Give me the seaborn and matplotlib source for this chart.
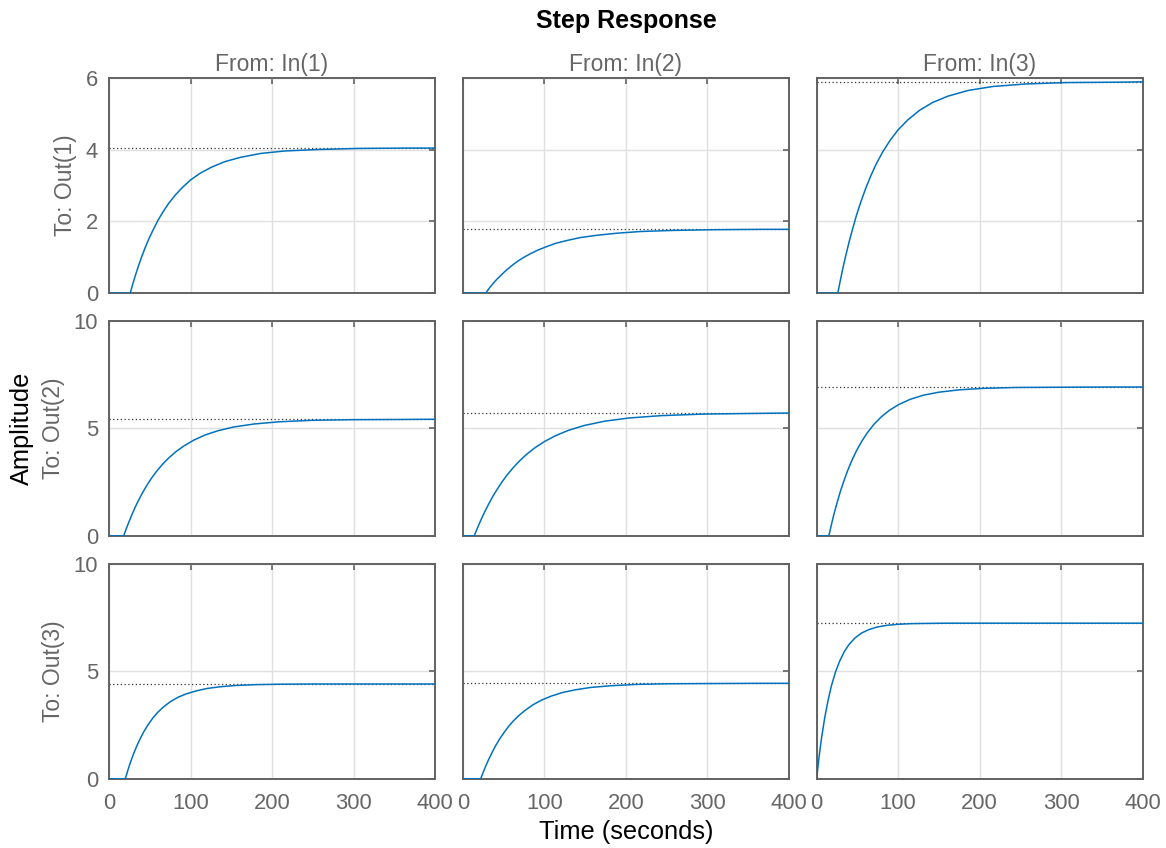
import matplotlib
matplotlib.use("Agg")
import matplotlib.pyplot as plt
import pandas as pd
import seaborn as sns

# ---------------- data ----------------
inputs = ["In(1)", "In(2)", "In(3)"]
outputs = ["Out(1)", "Out(2)", "Out(3)"]

# sample times after the dead time (s)
offsets = [0, 3, 6, 10, 14, 18, 23, 28, 34, 40, 47, 55, 64, 74, 86, 100, 116, 135, 160, 190, 230, 280, 340]
t_end = 400

# dead time of each channel (row = output, column = input)
delays = [[26, 28, 26],
          [18, 14, 15],
          [20, 22, 0]]

# amplitudes at delay + offsets
y11 = [0.00, 0.24, 0.47, 0.75, 1.01, 1.25, 1.52, 1.76, 2.03, 2.26, 2.50, 2.73, 2.95, 3.16, 3.35, 3.52, 3.67, 3.79, 3.90, 3.97, 4.01, 4.04, 4.05]
y12 = [0.00, 0.09, 0.18, 0.29, 0.39, 0.48, 0.59, 0.69, 0.80, 0.90, 1.00, 1.10, 1.20, 1.29, 1.39, 1.47, 1.55, 1.61, 1.67, 1.72, 1.75, 1.77, 1.78]
y13 = [0.00, 0.34, 0.67, 1.07, 1.44, 1.78, 2.18, 2.53, 2.91, 3.25, 3.60, 3.94, 4.26, 4.56, 4.84, 5.10, 5.32, 5.50, 5.66, 5.77, 5.84, 5.88, 5.89]
y21 = [0.00, 0.32, 0.61, 0.98, 1.33, 1.64, 2.00, 2.33, 2.68, 2.99, 3.31, 3.62, 3.92, 4.19, 4.46, 4.70, 4.90, 5.07, 5.21, 5.31, 5.38, 5.41, 5.42]
y22 = [0.00, 0.28, 0.55, 0.89, 1.21, 1.50, 1.85, 2.16, 2.51, 2.82, 3.14, 3.47, 3.79, 4.09, 4.39, 4.67, 4.92, 5.14, 5.34, 5.49, 5.60, 5.67, 5.70]
y23 = [0.00, 0.50, 0.97, 1.53, 2.05, 2.51, 3.03, 3.49, 3.97, 4.38, 4.79, 5.18, 5.53, 5.84, 6.12, 6.36, 6.55, 6.69, 6.80, 6.87, 6.91, 6.92, 6.93]
y31 = [0.00, 0.38, 0.73, 1.15, 1.52, 1.85, 2.21, 2.52, 2.84, 3.10, 3.35, 3.58, 3.78, 3.94, 4.08, 4.20, 4.28, 4.34, 4.38, 4.40, 4.41, 4.41, 4.41]
y32 = [0.00, 0.30, 0.58, 0.92, 1.23, 1.52, 1.84, 2.12, 2.43, 2.69, 2.95, 3.20, 3.44, 3.65, 3.84, 4.01, 4.14, 4.25, 4.33, 4.39, 4.42, 4.43, 4.44]
y33 = [0.00, 1.01, 1.88, 2.85, 3.64, 4.30, 4.95, 5.45, 5.92, 6.26, 6.55, 6.78, 6.94, 7.06, 7.14, 7.19, 7.22, 7.23, 7.24, 7.24, 7.24, 7.24, 7.24]
responses = [[y11, y12, y13], [y21, y22, y23], [y31, y32, y33]]

# steady-state values (dotted lines)
finals = [[4.05, 1.78, 5.90],
          [5.43, 5.72, 6.93],
          [4.41, 4.44, 7.24]]

row_ylims = [(0, 6), (0, 10), (0, 10)]
row_yticks = [[0, 2, 4, 6], [0, 5, 10], [0, 5, 10]]
xticks = [0, 100, 200, 300, 400]

# ---------------- build long table ----------------
rows = []
for i, out in enumerate(outputs):
    for j, inp in enumerate(inputs):
        d = delays[i][j]
        ts = [0] + [d + o for o in offsets] + [t_end]
        ys = [0] + responses[i][j] + [finals[i][j]]
        for t, y in zip(ts, ys):
            rows.append({"time": t, "amplitude": y, "out": out, "inp": inp})
df = pd.DataFrame(rows)

# ---------------- style ----------------
sns.set_theme(style="white")
plt.rcParams["font.family"] = ["Liberation Sans", "DejaVu Sans"]

GRAY_TXT = "#666666"
FRAME = "#626262"
GRID = "#e0e0e0"
BLUE = "#0072BD"

fig, axes = plt.subplots(3, 3, figsize=(11.66, 8.48), dpi=100,
                         sharex=True, sharey="row")
fig.subplots_adjust(left=0.0935, right=0.980, top=0.9077, bottom=0.0817,
                    wspace=0.085, hspace=0.1305)

for i, out in enumerate(outputs):
    for j, inp in enumerate(inputs):
        ax = axes[i, j]
        sub = df[(df["out"] == out) & (df["inp"] == inp)]
        ax.axhline(finals[i][j], color="#333333", lw=0.9, ls=(0, (1, 2)), zorder=2)
        sns.lineplot(data=sub, x="time", y="amplitude", ax=ax, color=BLUE,
                     lw=1.1, estimator=None, sort=False, zorder=3)
        ax.set_xlim(0, 400)
        ax.set_ylim(*row_ylims[i])
        ax.set_xticks(xticks)
        ax.set_yticks(row_yticks[i])
        ax.set_xlabel("")
        ax.set_ylabel("")
        ax.grid(True, color=GRID, lw=1.0)
        ax.set_axisbelow(True)
        for sp in ax.spines.values():
            sp.set_visible(True)
            sp.set_color(FRAME)
            sp.set_linewidth(1.4)
        ax.tick_params(direction="in", top=True, right=True, length=4, width=1.2,
                       color=FRAME, labelcolor=GRAY_TXT, labelsize=15.8)
        ax.tick_params(axis="x", pad=10)
        ax.tick_params(axis="y", pad=8)
        if i == 0:
            ax.set_title(f"From: {inp}", color=GRAY_TXT, fontsize=16.5, pad=5)
        if j == 0:
            ax.set_ylabel(f"To: {out}", color=GRAY_TXT, fontsize=16.5, labelpad=6)

fig.text(0.537, 1 - 21 / 848, "Step Response", ha="center", va="center",
         fontsize=18, fontweight="bold", color="black")
fig.text(0.537, 1 - 832 / 848, "Time (seconds)", ha="center", va="center",
         fontsize=18.3, color="black")
fig.text(0.019, 1 - 428 / 848, "Amplitude", ha="center", va="center",
         rotation=90, fontsize=18.3, color="black")

fig.savefig("out.png", dpi=100)
